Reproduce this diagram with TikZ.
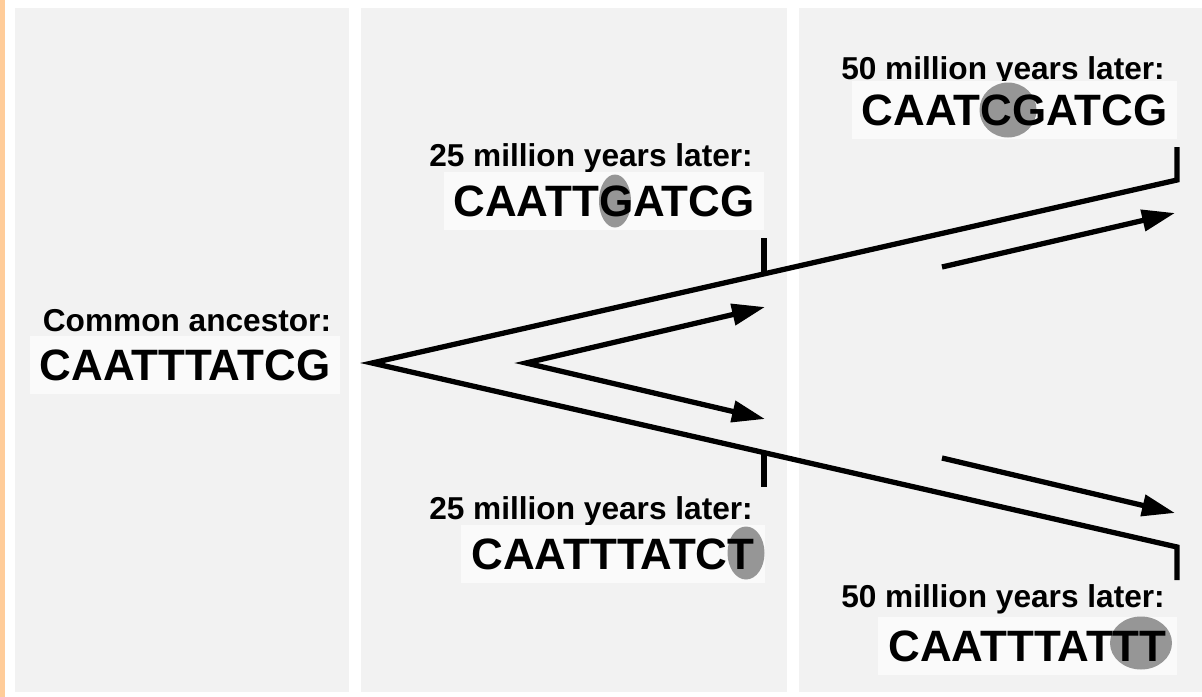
\documentclass[tikz,border=0pt]{standalone}
\usepackage{fontspec}
\setmainfont{Liberation Sans}
\usetikzlibrary{arrows.meta,calc,positioning}
\definecolor{panelgray}{HTML}{F2F2F2}
\definecolor{boxwhite}{HTML}{FAFAFA}
\definecolor{stripe}{HTML}{FFCC99}

\begin{document}
\begin{tikzpicture}[
    seq/.style={fill=boxwhite, inner xsep=0.2cm, minimum height=1.16cm, font=\fontsize{25}{30}\selectfont\bfseries},
    lbl/.style={anchor=base, font=\fontsize{18}{22}\selectfont\bfseries},
    mut/.style={fill=black, fill opacity=0.4},
    branch/.style={line width=3pt},
    tip/.style={-{Triangle[length=0.66cm,width=0.42cm]}}
  ]
    \useasboundingbox (0,0) rectangle (24.04,-13.94);
    % panels
    \fill[stripe] (0,0) rectangle (0.1,-13.94);
    \fill[panelgray] (0.30,-0.16) rectangle (6.98,-13.84);
    \fill[panelgray] (7.22,-0.16) rectangle (15.74,-13.84);
    \fill[panelgray] (15.98,-0.16) rectangle (24.04,-13.84);

    % sequences
    \node[lbl] (ancL) at (3.74,-6.62) {Common ancestor:};
    \node[seq] (anc) at (3.70,-7.30) {CAATTTATCG};

    \node[lbl] (midAL) at (11.82,-3.32) {25 million years later:};
    \node[seq] (midA) at (12.08,-4.02) {CAATTGATCG};
    \fill[mut] (12.30,-4.02) ellipse (0.32 and 0.53);

    \node[lbl] (midBL) at (11.82,-10.38) {25 million years later:};
    \node[seq] (midB) at (12.26,-11.08) {CAATTTATCT};
    \fill[mut] (14.92,-11.06) ellipse (0.37 and 0.53);

    \node[lbl] (topRL) at (20.06,-1.58) {50 million years later:};
    \node[seq] (topR) at (20.29,-2.20) {CAATCGATCG};
    \fill[mut] (20.16,-2.20) ellipse (0.57 and 0.55);

    \node[lbl] (botRL) at (20.06,-12.14) {50 million years later:};
    \node[seq] (botR) at (20.55,-12.92) {CAATTTATTT};
    \fill[mut] (22.82,-12.86) ellipse (0.62 and 0.53);

    % branches
    \coordinate (root) at (7.44,-7.26);
    \coordinate (up) at (23.54,-3.60);
    \coordinate (down) at (23.54,-10.94);
    \coordinate (upT) at (23.54,-2.94);
    \coordinate (downT) at (23.54,-11.60);
    \draw[branch] (upT) -- (up) -- (root) -- (down) -- (downT);
    \coordinate (midUp) at ($(root)!0.487!(up)$);
    \coordinate (midDown) at ($(root)!0.487!(down)$);
    \draw[branch] (midUp) -- ++(0,0.72);
    \draw[branch] (midDown) -- ++(0,-0.68);

    % arrows
    \coordinate (split) at (10.52,-7.26);
    \coordinate (forkA) at (15.30,-6.14);
    \coordinate (forkB) at (15.30,-8.38);
    \draw[branch, {Triangle[length=0.66cm,width=0.42cm]}-{Triangle[length=0.66cm,width=0.42cm]}] (forkA) -- (split) -- (forkB);
    \coordinate (rA) at (18.84,-5.34);
    \coordinate (rAtip) at (23.50,-4.26);
    \coordinate (rB) at (18.84,-9.16);
    \coordinate (rBtip) at (23.50,-10.26);
    \draw[branch, tip] (rA) -- (rAtip);
    \draw[branch, tip] (rB) -- (rBtip);
\end{tikzpicture}
\end{document}
